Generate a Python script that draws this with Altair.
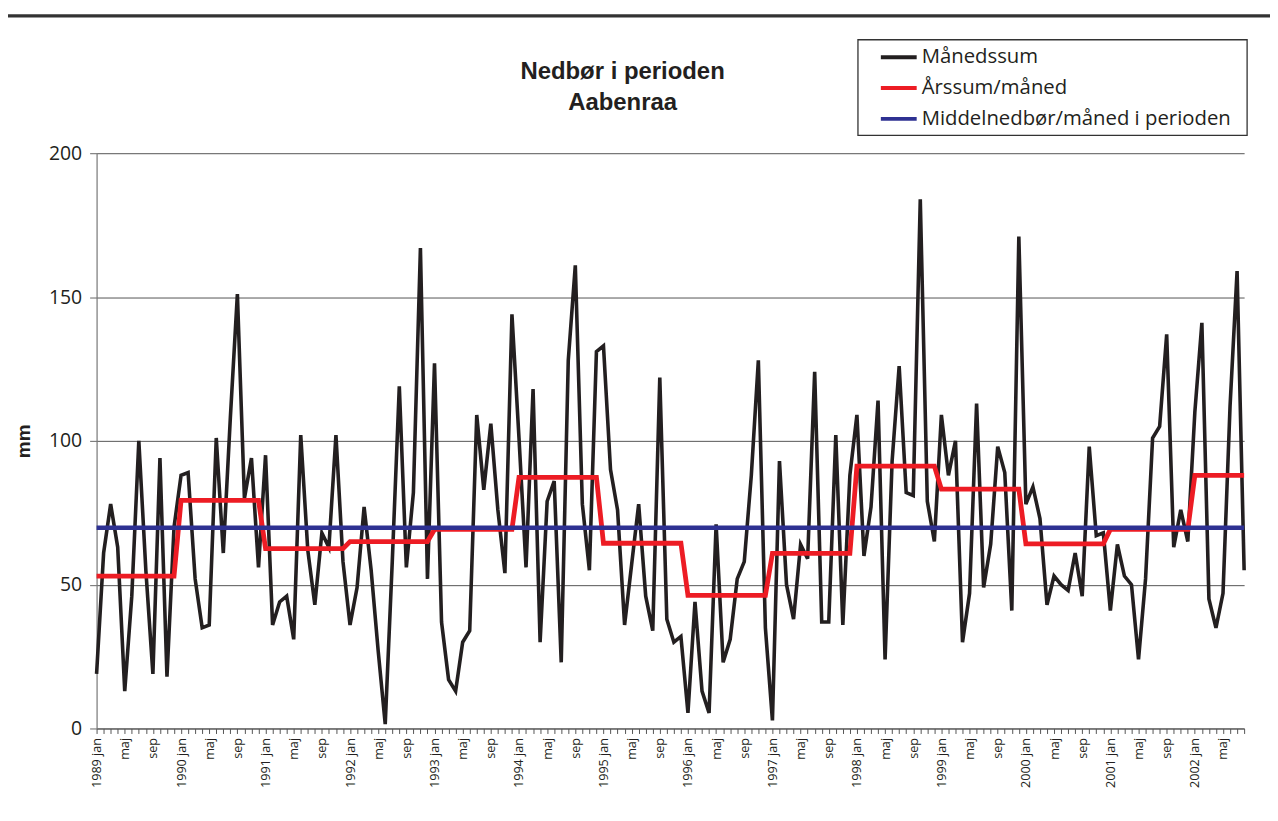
import json
import altair as alt
import pandas as pd

# ---------------- data ----------------
years = list(range(1989, 2003))
month_names = ["jan", "feb", "mar", "apr", "maj", "jun",
               "jul", "aug", "sep", "okt", "nov", "dec"]

monthly = [
    19, 61, 78, 63, 13, 46, 100, 55, 19, 94, 18, 70,        # 1989
    88, 89, 52, 35, 36, 101, 61, 108, 151, 80, 94, 56,      # 1990
    95, 36, 44, 46, 31, 102, 62, 43, 68, 63, 102, 58,       # 1991
    36, 49, 77, 55, 27, 1.5, 58, 119, 56, 82, 167, 52,      # 1992
    127, 37, 17, 13, 30, 34, 109, 83, 106, 76, 54, 144,     # 1993
    101, 56, 118, 30, 79, 86, 23, 128, 161, 78, 55, 131,    # 1994
    133, 90, 76, 36, 57, 78, 46, 34, 122, 38, 30, 32,       # 1995
    5.4, 44, 13, 5.4, 71, 23, 31, 52, 58, 88, 128, 35,      # 1996
    2.8, 93, 50, 38, 64, 59, 124, 37, 37, 102, 36, 88,      # 1997
    109, 60, 77, 114, 24, 93, 126, 82, 81, 184, 79, 65,     # 1998
    109, 88, 100, 30, 47, 113, 49, 64, 98, 89, 41, 171,     # 1999
    78, 84, 73, 43, 53, 50, 48, 61, 46, 98, 67, 68,         # 2000
    41, 64, 53, 50, 24, 52, 101, 105, 137, 63, 76, 65,      # 2001
    110, 141, 45, 35, 47, 112, 159, 55,                     # 2002 (jan-aug)
]

yearly = [53.0, 79.3, 62.5, 65.0, 69.2, 87.3, 64.4,
          46.3, 60.9, 91.2, 83.2, 64.2, 69.2, 88.0]

period_mean = 69.8

series_names = ["Månedssum", "Årssum/måned", "Middelnedbør/måned i perioden"]
series_colors = ["#231f20", "#ed1c24", "#2e3192"]
series_widths = [3.6, 4.8, 4.4]

y_ticks = [0, 50, 100, 150, 200]
title_lines = ["Nedbør i perioden", "Aabenraa"]
y_title = "mm"

# ---------------- build table ----------------
n = len(monthly)
rows = []
for i, v in enumerate(monthly):
    rows.append({"i": i, "mm": v, "series": series_names[0]})
for i in range(n):
    rows.append({"i": i, "mm": yearly[i // 12], "series": series_names[1]})
for i in range(n):
    rows.append({"i": i, "mm": period_mean, "series": series_names[2]})
df = pd.DataFrame(rows)

tick_labels = []
for i in range(n):
    yi, m = divmod(i, 12)
    if i % 4 == 0:
        tick_labels.append(f"{years[yi]} jan" if m == 0 else month_names[m])
    else:
        tick_labels.append("")
label_expr = json.dumps(tick_labels, ensure_ascii=False) + "[datum.value]"

TXT = "#231f20"
FONT = "Open Sans"

x_enc = alt.X(
    "i:Q",
    scale=alt.Scale(domain=[0, n - 1], nice=False, zero=False),
    axis=alt.Axis(
        values=list(range(n)), labelExpr=label_expr, labelAngle=270,
        labelFont=FONT, labelFontSize=12.7, labelColor=TXT, labelPadding=4,
        labelOverlap=False, labelFlush=False, labelBound=False,
        tickSize=5, tickColor="#555555", domainColor="#555555",
        domainWidth=1, grid=False, title=None,
    ),
)
y_enc = alt.Y(
    "mm:Q",
    scale=alt.Scale(domain=[0, 200], nice=False),
    axis=alt.Axis(
        values=y_ticks, title=y_title, titleFont="Liberation Sans",
        titleFontSize=19, titleFontWeight="bold", titleColor=TXT,
        titlePadding=15, labelFont=FONT, labelFontSize=19.5, labelColor=TXT,
        labelPadding=8, tickSize=7, tickColor="#666666",
        domainColor="#777777", domainWidth=1.2,
        grid=True, gridColor="#555555", gridWidth=1,
    ),
)
color_enc = alt.Color(
    "series:N",
    scale=alt.Scale(domain=series_names, range=series_colors),
    legend=alt.Legend(
        title=None, orient="none", legendX=765, legendY=-119.5,
        symbolType="stroke", symbolSize=1296, symbolStrokeWidth=4,
        labelFont=FONT, labelFontSize=20.4, labelColor=TXT, labelOffset=3,
        labelLimit=500, padding=3, rowPadding=0, symbolOffset=18,
    ),
)

base = alt.Chart(df)
layers = []
for name, w in zip(series_names, series_widths):
    layers.append(
        base.transform_filter(alt.datum.series == name)
        .mark_line(strokeWidth=w, strokeJoin="miter", strokeCap="butt")
        .encode(x=x_enc, y=y_enc, color=color_enc, order="i:Q")
    )

# decorations: heavy rule across the top of the page and the legend frame
top_rule = alt.Chart(alt.Data(values=[{}])).mark_rule(
    color="#333333", strokeWidth=3.5
).encode(x=alt.value(-89), x2=alt.value(1195), y=alt.value(-138))

legend_frame = alt.Chart(alt.Data(values=[{}])).mark_rect(
    filled=False, stroke="#333333", strokeWidth=1.3
).encode(x=alt.value(765), x2=alt.value(1156), y=alt.value(-114), y2=alt.value(-18))

chart = alt.layer(*layers, top_rule, legend_frame).properties(
    width=1153,
    height=578,
    title=alt.TitleParams(
        text=title_lines, font="Liberation Sans", fontSize=24,
        fontWeight="bold", color=TXT, anchor="middle", dx=-48,
        offset=-101, lineHeight=31,
    ),
    autosize=alt.AutoSizeParams(type="none"),
    padding={"left": 89, "top": 144, "right": 26, "bottom": 80},
    background="white",
).configure_view(stroke=None)

chart.save("out.html", embed_options={"renderer": "svg", "actions": False})
